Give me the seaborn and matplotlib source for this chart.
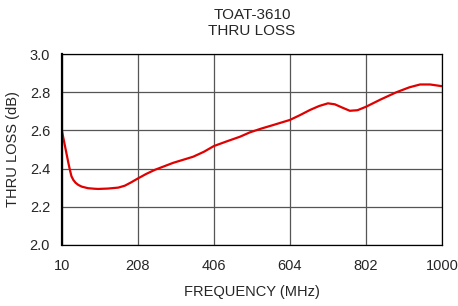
import matplotlib
matplotlib.use('Agg')
import matplotlib.pyplot as plt
import seaborn as sns
import pandas as pd

# TOAT-3610 thru loss
freq_mhz = [10, 16, 22, 27, 31, 35, 40, 46, 53, 62, 78, 95, 105, 130, 157,
            174, 190, 209, 230, 252, 300, 352, 380, 406, 440, 474, 500, 530,
            560, 604, 630, 656, 680, 703, 721, 740, 760, 780, 802, 840, 881,
            915, 943, 969, 1000]
thru_loss = [2.60, 2.54, 2.48, 2.43, 2.393, 2.36, 2.34, 2.325, 2.314, 2.305,
             2.297, 2.294, 2.293, 2.295, 2.30, 2.31, 2.327, 2.349, 2.372, 2.393,
             2.43, 2.462, 2.488, 2.518, 2.543, 2.567, 2.59, 2.61, 2.628, 2.655,
             2.68, 2.707, 2.728, 2.742, 2.737, 2.72, 2.703, 2.706, 2.724, 2.762,
             2.80, 2.826, 2.841, 2.841, 2.832]
x_ticks = [10, 208, 406, 604, 802, 1000]
y_ticks = [2.0, 2.2, 2.4, 2.6, 2.8, 3.0]

df = pd.DataFrame({'freq': freq_mhz, 'loss': thru_loss})

sns.set_style('white')
plt.rcParams['font.family'] = ['Liberation Sans', 'DejaVu Sans']

fig, ax = plt.subplots(figsize=(4.58, 3.06), dpi=100)
fig.subplots_adjust(left=0.135, right=0.965, top=0.823, bottom=0.2)

sns.lineplot(data=df, x='freq', y='loss', ax=ax, color='#e00000', linewidth=1.6)

ax.set_xlim(10, 1000)
ax.set_ylim(2.0, 3.0)
ax.set_xticks(x_ticks)
ax.set_yticks(y_ticks)
ax.set_yticklabels([f'{v:.1f}' for v in y_ticks])
ax.grid(True, color='#555555', linewidth=0.9)
ax.tick_params(axis='x', direction='inout', length=6, width=0.8, labelsize=10.5, pad=7)
ax.tick_params(axis='y', direction='out', length=5, width=0.8, labelsize=10.5)
for side in ['top', 'right', 'bottom']:
    ax.spines[side].set_color('black')
    ax.spines[side].set_linewidth(0.9)
ax.spines['left'].set_color('black')
ax.spines['left'].set_linewidth(1.6)

ax.set_xlabel('FREQUENCY (MHz)', fontsize=10.5, labelpad=9)
ax.set_ylabel('THRU LOSS (dB)', fontsize=10.5, labelpad=7)
ax.set_title('TOAT-3610\nTHRU LOSS', fontsize=11, pad=14, linespacing=1.15)

fig.savefig('out.png', dpi=100)
